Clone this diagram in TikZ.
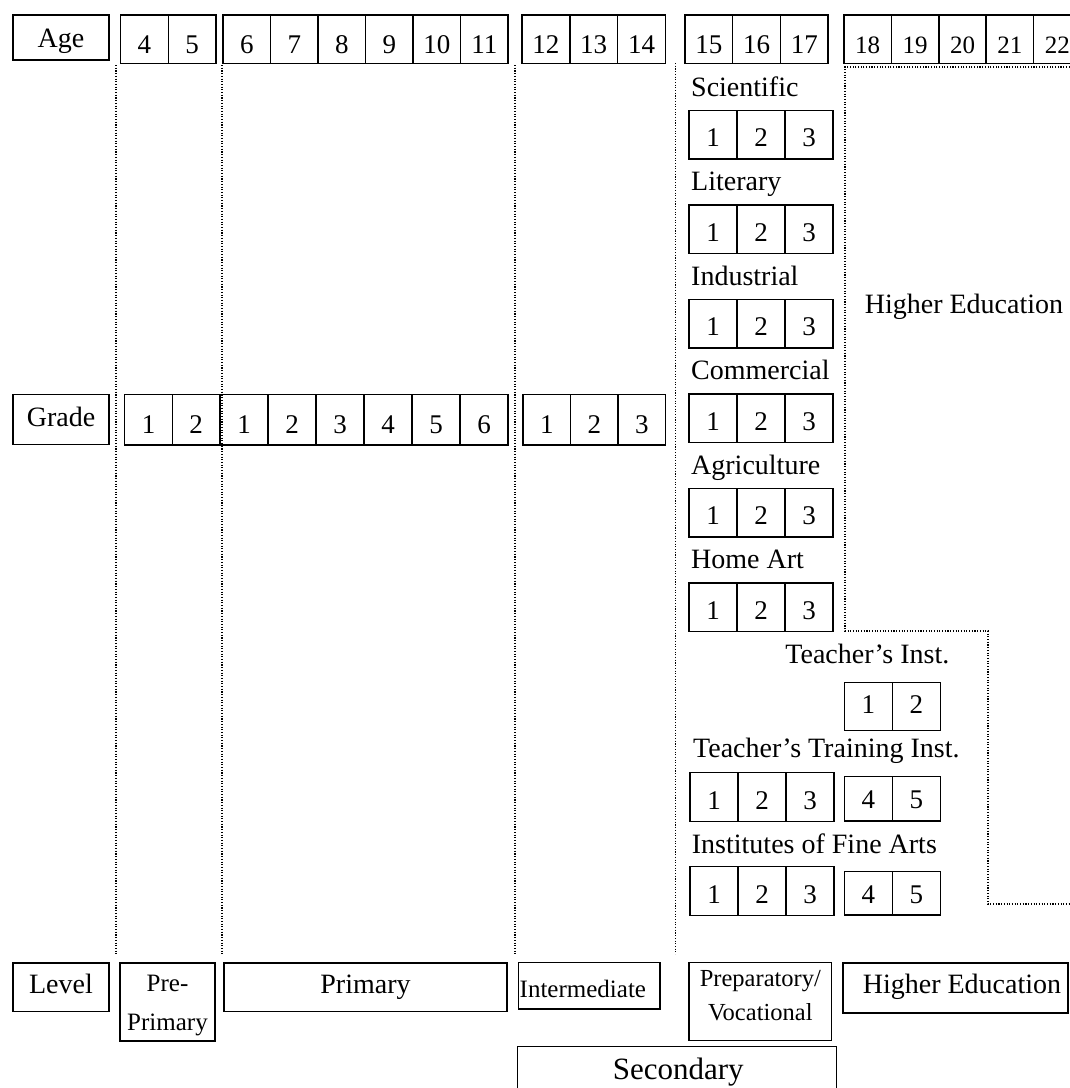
\documentclass[tikz,border=0pt]{standalone}
\usepackage{fontspec}
\setmainfont{Liberation Serif}
% [options]{name}{x0}{center y}{height}{cell width}{values}
\newcommand{\cellrow}[7][]{%
  \foreach \cv [count=\ci] in {#7}{%
    \node[cell, #1, minimum width=#6pt, minimum height=#5pt] (#2\ci) at ({#3+(\ci-0.5)*#6},{#4}) {\cv};}}
\begin{document}
\begin{tikzpicture}[x=1pt,y=-1pt,
  cell/.style={draw, line width=1.5pt, inner sep=0pt, text height=24pt, text depth=0pt, font=\fontsize{27}{30}\selectfont},
  lbox/.style={draw, line width=1.5pt, inner sep=0pt, text height=19pt, text depth=6pt, font=\fontsize{28}{32}\selectfont},
  frame/.style={draw, line width=1.5pt, inner sep=0pt},
  txt/.style={inner sep=0pt, font=\fontsize{28}{32}\selectfont},
  small/.style={inner sep=0pt, font=\fontsize{25}{30}\selectfont},
  dotline/.style={line width=1.1pt, dash pattern=on 1.1pt off 1.6pt},
]
\useasboundingbox (0,0) rectangle (1070,1088);
\clip (0,0) rectangle (1070,1088);

% left labels
\node[lbox, text height=22pt, text depth=2pt, minimum width=96pt, minimum height=45pt] (age) at (61,37.5) {Age};
\node[lbox, minimum width=96pt, minimum height=50pt] (grade) at (61,419.5) {Grade};
\node[lbox, minimum width=96pt, minimum height=48.6pt] (level) at (61,987.3) {Level};

% age row
\cellrow[text height=29pt]{ageA}{120.5}{39.25}{48.5}{47.75}{4,5}
\cellrow[text height=29pt]{ageB}{223}{39.25}{48.5}{47.5}{6,7,8,9,10,11}
\cellrow[text height=29pt]{ageC}{522}{39.25}{48.5}{47.8}{12,13,14}
\cellrow[text height=29pt]{ageD}{685}{39.25}{48.5}{47.7}{15,16,17}
\cellrow[text height=29pt, font=\fontsize{25}{30}\selectfont]{ageE}{844}{39.25}{48.5}{47.4}{18,19,20,21,22}

% grade row
\cellrow[text height=28pt]{grA}{124.7}{419.75}{50.5}{47.65}{1,2}
\cellrow[text height=28pt]{grB}{220}{419.75}{50.5}{48}{1,2,3,4,5,6}
\cellrow[text height=28pt]{grC}{523}{419.75}{50.5}{47.5}{1,2,3}

% secondary streams
\node[txt, anchor=base west] (lsci) at (691,96.2) {Scientific};
\cellrow{sci}{689}{134.95}{48.5}{48}{1,2,3}
\node[txt, anchor=base west] (llit) at (691,190.7) {Literary};
\cellrow{lit}{689}{229.45}{48.5}{48}{1,2,3}
\node[txt, anchor=base west] (lind) at (691,285.2) {Industrial};
\cellrow{ind}{689}{323.95}{48.5}{48}{1,2,3}
\node[txt, anchor=base west] (lcom) at (691,379.7) {Commercial};
\cellrow{com}{689}{418.45}{48.5}{48}{1,2,3}
\node[txt, anchor=base west] (lagr) at (691,474.2) {Agriculture};
\cellrow{agr}{689}{512.95}{48.5}{48}{1,2,3}
\node[txt, anchor=base west] (lhom) at (691,568.7) {Home Art};
\cellrow{hom}{689}{607.45}{48.5}{48}{1,2,3}

% teacher institutes
\node[txt, anchor=base east] (lti) at (949.5,663) {Teacher’s Inst.};
\cellrow[text height=13pt]{ti}{844.3}{706.5}{48.4}{48}{1,2}
\node[txt, anchor=base west] (ltti) at (693,757.5) {Teacher’s Training Inst.};
\cellrow{ttiA}{690}{797}{49.4}{48}{1,2,3}
\cellrow[text height=20pt]{ttiB}{844.3}{798.85}{44.3}{48}{4,5}
\node[txt, anchor=base west] (lifa) at (691.7,853.3) {Institutes of Fine Arts};
\cellrow{ifaA}{690}{891.2}{49}{48}{1,2,3}
\cellrow[text height=20pt]{ifaB}{844.3}{893.35}{43.3}{48}{4,5}

% higher education area
\node[txt] (hemid) at (964,307) {Higher Education};

% dotted separators
\draw[dotline] (116,65) -- (116,954);
\draw[dotline] (222,65) -- (222,954);
\draw[dotline] (515,65) -- (515,954);
\draw[dotline] (675.5,63) -- (675.5,954);
\draw[dotline] (1075,67) -- (845,67) -- (845,631) -- (988,631) -- (988,904) -- (1075,904);

% level row
\node[frame, minimum width=95pt, minimum height=78pt] (prebox) at (167.5,1002) {};
\node[small, anchor=base] (pre1) at (167.5,991.6) {Pre-};
\node[small, anchor=base] (pre2) at (167.5,1030) {Primary};
\node[lbox, minimum width=283pt, minimum height=48.6pt] (primary) at (365.5,987.3) {Primary};
\node[frame, minimum width=141.7pt, minimum height=46.7pt] (intbox) at (589.15,985.65) {};
\node[small, anchor=base west] (inttxt) at (519.5,997.3) {Intermediate};
\node[frame, minimum width=142.7pt, minimum height=78.4pt] (pvbox) at (760.35,1001.5) {};
\node[small, anchor=base, font=\fontsize{24.5}{30}\selectfont] (pv1) at (760.35,986.7) {Preparatory/};
\node[small, anchor=base, font=\fontsize{24.5}{30}\selectfont] (pv2) at (760.35,1020) {Vocational};
\node[frame, minimum width=225pt, minimum height=50pt] (hebox) at (955.5,988) {};
\node[txt] (hetxt) at (962,986.5) {Higher Education};
\node[frame, minimum width=319pt, minimum height=80pt] (secbox) at (677.2,1086.7) {};
\node[txt, anchor=base, font=\fontsize{31}{34}\selectfont] (sectxt) at (678.3,1079.3) {Secondary};
\end{tikzpicture}
\end{document}
